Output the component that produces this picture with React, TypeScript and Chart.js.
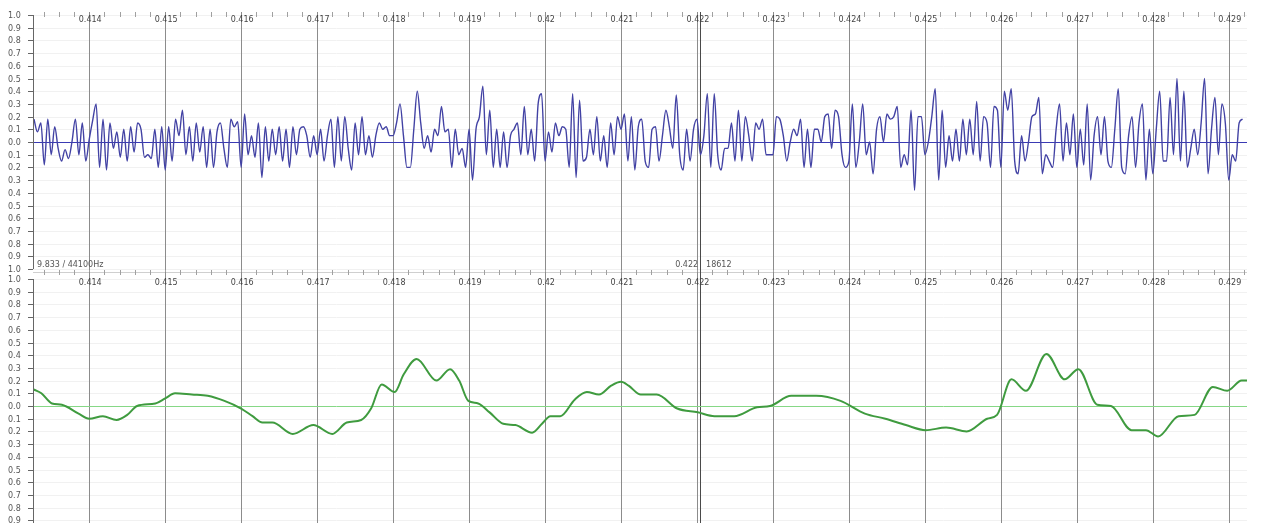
import React, { useEffect, useRef } from "react";
import { Chart, registerables } from "chart.js";

Chart.register(...registerables);

// ---------------- data ----------------
const SAMPLE_RATE = 44100;
const CURSOR_SAMPLE = 18612;
const ZOOM_TEXT = "9.833 / 44100Hz";

const X_MIN = 0.41326;
const X_MAX = 0.42924;
const X_TICKS = [0.414, 0.415, 0.416, 0.417, 0.418, 0.419, 0.42, 0.421, 0.422, 0.423, 0.424, 0.425, 0.426, 0.427, 0.428, 0.429];
const X_TICK_LABELS = ["0.414", "0.415", "0.416", "0.417", "0.418", "0.419", "0.42", "0.421", "0.422", "0.423", "0.424", "0.425", "0.426", "0.427", "0.428", "0.429"];
const X_MINOR_START = 0.4134;
const X_MINOR_STEP = 0.0002;

const Y_TICKS = [1.0, 0.9, 0.8, 0.7, 0.6, 0.5, 0.4, 0.3, 0.2, 0.1, 0.0, -0.1, -0.2, -0.3, -0.4, -0.5, -0.6, -0.7, -0.8, -0.9, -1.0];
const Y_TICK_LABELS = ["1.0", "0.9", "0.8", "0.7", "0.6", "0.5", "0.4", "0.3", "0.2", "0.1", "0.0", "0.1", "0.2", "0.3", "0.4", "0.5", "0.6", "0.7", "0.8", "0.9", "1.0"];

// upper (raw) waveform: one value every 1/22000 s, first value at 0.414 - 16/22000 s
const RAW_FIRST_TIME = 0.414 - 16 / 22000;
const RAW_STEP = 1 / 22000;
const RAW_VALUES = [
  // before 0.414
  0.18, 0.08, 0.15, -0.18, 0.18, -0.1, 0.12, -0.05, -0.15, -0.06, -0.13, 0.0, 0.18, -0.1, 0.15, -0.15,
  // 0.414
  0.02, 0.17, 0.3, -0.2, 0.18, -0.22, 0.15, -0.05, 0.08, -0.12, 0.1, -0.15, 0.12, -0.08, 0.15, 0.1, -0.12, -0.1, -0.13, 0.1, -0.2, 0.12,
  // 0.415
  -0.22, 0.12, -0.15, 0.18, 0.05, 0.25, -0.1, 0.12, -0.15, 0.15, -0.08, 0.12, -0.2, 0.1, -0.2, 0.08, 0.15, -0.05, -0.2, 0.18, 0.12, 0.16,
  // 0.416
  -0.2, 0.22, -0.1, 0.05, -0.12, 0.15, -0.28, 0.12, -0.15, 0.1, -0.1, 0.12, -0.15, 0.1, -0.2, 0.12, -0.1, 0.1, 0.12, 0.05, -0.12, 0.05,
  // 0.417
  -0.1, 0.1, -0.15, 0.05, 0.18, -0.2, 0.2, -0.15, 0.2, -0.05, -0.22, 0.15, -0.1, 0.2, -0.1, 0.05, -0.12, 0.05, 0.15, 0.1, 0.12, 0.05,
  // 0.418
  0.05, 0.15, 0.3, 0.05, -0.2, -0.2, 0.1, 0.4, 0.15, -0.05, 0.05, -0.08, 0.1, 0.05, 0.28, 0.08, 0.1, -0.2, 0.1, -0.1, -0.05, -0.2,
  // 0.419
  0.1, -0.3, 0.1, 0.2, 0.44, -0.1, 0.25, -0.2, 0.1, -0.2, 0.08, -0.2, 0.05, 0.1, 0.15, -0.1, 0.28, -0.1, 0.1, -0.15, 0.3, 0.38,
  // 0.420
  -0.15, 0.08, -0.08, 0.15, 0.05, 0.12, 0.1, -0.2, 0.38, -0.28, 0.33, -0.15, -0.12, 0.1, -0.1, 0.2, -0.15, 0.05, -0.2, 0.15, -0.1, 0.2,
  // 0.421
  0.1, 0.22, -0.15, 0.2, -0.22, 0.12, 0.18, -0.15, -0.2, 0.1, 0.12, -0.15, 0.05, 0.25, 0.12, -0.05, 0.37, -0.1, -0.22, 0.1, -0.15, 0.1,
  // 0.422
  0.18, -0.1, 0.05, 0.38, -0.2, 0.38, -0.1, -0.22, -0.05, -0.05, 0.15, -0.15, 0.25, -0.15, 0.2, 0.05, -0.15, 0.15, 0.1, 0.18, -0.1, -0.1,
  // 0.423
  -0.1, 0.2, 0.18, 0.05, -0.15, 0.0, 0.1, 0.05, 0.18, -0.2, 0.1, -0.2, 0.1, 0.1, 0.0, 0.2, 0.22, -0.05, 0.25, 0.2, -0.1, -0.2,
  // 0.424
  -0.15, 0.3, -0.2, 0.0, 0.3, -0.1, 0.0, -0.25, 0.1, 0.2, 0.0, 0.22, 0.18, 0.2, 0.28, -0.2, -0.1, -0.18, 0.25, -0.38, 0.2, 0.2,
  // 0.425
  -0.1, 0.0, 0.2, 0.42, -0.3, 0.25, -0.2, 0.05, -0.15, 0.1, -0.15, 0.18, -0.1, 0.18, -0.1, 0.32, -0.15, 0.2, 0.15, -0.2, 0.28, 0.25,
  // 0.426
  -0.2, 0.4, 0.25, 0.42, -0.15, -0.25, 0.05, -0.15, 0.0, 0.2, 0.22, 0.35, -0.25, -0.1, -0.15, -0.2, 0.1, 0.3, -0.15, 0.15, -0.1, 0.22,
  // 0.427
  -0.2, 0.1, -0.18, 0.3, -0.3, 0.05, 0.2, -0.1, 0.2, -0.15, -0.2, 0.1, 0.42, -0.2, -0.25, 0.05, 0.2, -0.2, 0.15, 0.3, -0.3, 0.1,
  // 0.428
  -0.25, 0.1, 0.4, -0.15, -0.15, 0.35, -0.1, 0.5, -0.15, 0.4, -0.2, -0.05, 0.1, -0.1, 0.15, 0.5, -0.25, 0.1, 0.35, -0.1, 0.3, 0.15,
  // 0.429
  -0.3, -0.1, -0.15, 0.15, 0.18,
];

// lower (filtered) waveform
const SMOOTH_TIMES = [
  0.41327, 0.41337, 0.41351, 0.41364, 0.41386, 0.414, 0.41418, 0.41436, 0.4145, 0.41463, 0.41487, 0.415, 0.41513, 0.41535,
  0.41556, 0.41578, 0.416, 0.41615, 0.41628, 0.41641, 0.41668, 0.41695, 0.4172, 0.41739, 0.41758, 0.41771, 0.41785, 0.41802,
  0.41814, 0.41831, 0.41857, 0.41875, 0.41887, 0.41899, 0.41912, 0.41927, 0.41945, 0.41961, 0.41983, 0.41996, 0.42007, 0.4202,
  0.42039, 0.42055, 0.42071, 0.42087, 0.421, 0.4211, 0.42126, 0.42147, 0.42174, 0.42201, 0.42223, 0.42249, 0.42279, 0.42296,
  0.42324, 0.42357, 0.42389, 0.42421, 0.42448, 0.42475, 0.42501, 0.42528, 0.42555, 0.42582, 0.42595, 0.42614, 0.42633, 0.4266,
  0.42684, 0.42702, 0.42727, 0.42745, 0.42772, 0.42791, 0.42807, 0.42834, 0.42855, 0.42879, 0.42898, 0.42917, 0.42924,
];
const SMOOTH_VALUES = [
  0.13, 0.1, 0.02, 0.01, -0.06, -0.1, -0.08, -0.11, -0.07, 0.0, 0.02, 0.06, 0.1, 0.09,
  0.08, 0.04, -0.02, -0.08, -0.13, -0.13, -0.22, -0.15, -0.22, -0.13, -0.11, -0.02, 0.17, 0.11,
  0.25, 0.37, 0.2, 0.29, 0.2, 0.04, 0.02, -0.05, -0.14, -0.15, -0.21, -0.14, -0.08, -0.08,
  0.05, 0.11, 0.09, 0.16, 0.19, 0.16, 0.09, 0.09, -0.02, -0.05, -0.08, -0.08, -0.01, 0.0,
  0.08, 0.08, 0.04, -0.06, -0.1, -0.15, -0.19, -0.17, -0.2, -0.1, -0.07, 0.21, 0.12, 0.41,
  0.21, 0.29, 0.01, 0.0, -0.19, -0.19, -0.24, -0.08, -0.07, 0.15, 0.12, 0.2, 0.2,
];

// ---------------- drawing helpers ----------------
const FONT = '8px "DejaVu Sans", sans-serif';

type PanelCfg = {
  zeroColor: string;
  gridFrom: number;
  minorTop: number;
  minorBottom: number;
  stripY: number | null;
  labelDy: number;
  texts: boolean;
};

function line(ctx: CanvasRenderingContext2D, x1: number, y1: number, x2: number, y2: number) {
  ctx.beginPath();
  ctx.moveTo(x1, y1);
  ctx.lineTo(x2, y2);
  ctx.stroke();
}

function makeDecor(cfg: PanelCfg) {
  return {
    id: "panelDecor",
    beforeDatasetsDraw(chart: any) {
      const { ctx, chartArea: a } = chart;
      const xs = chart.scales.x;
      const ys = chart.scales.y;
      ctx.save();
      ctx.lineWidth = 1;
      ctx.strokeStyle = "#f1f1f1";
      Y_TICKS.forEach((v) => {
        if (v === 0) return;
        const py = Math.round(ys.getPixelForValue(v)) + 0.5;
        line(ctx, a.left, py, a.right, py);
      });
      if (cfg.stripY !== null) {
        ctx.strokeStyle = "#cfcfcf";
        line(ctx, a.left, cfg.stripY + 0.5, a.right, cfg.stripY + 0.5);
      }
      ctx.strokeStyle = "#a0a0a0";
      for (let k = 0; k < 200; k++) {
        const v = Math.round((X_MINOR_START + k * X_MINOR_STEP) * 1e6) / 1e6;
        if (v > X_MAX) break;
        const px = Math.round(xs.getPixelForValue(v)) + 0.5;
        line(ctx, px, cfg.minorTop, px, cfg.minorBottom);
      }
      ctx.strokeStyle = "#8c8c8c";
      X_TICKS.forEach((v) => {
        const px = Math.round(xs.getPixelForValue(v)) + 0.5;
        line(ctx, px, cfg.gridFrom, px, chart.height);
      });
      ctx.strokeStyle = "#4a4a4a";
      const cx = Math.round(xs.getPixelForValue(CURSOR_SAMPLE / SAMPLE_RATE)) + 0.5;
      line(ctx, cx, cfg.gridFrom, cx, chart.height);
      ctx.strokeStyle = cfg.zeroColor;
      const zy = Math.round(ys.getPixelForValue(0)) + 0.5;
      line(ctx, a.left, zy, a.right, zy);
      ctx.restore();
    },
    afterDatasetsDraw(chart: any) {
      const { ctx, chartArea: a } = chart;
      const xs = chart.scales.x;
      const ys = chart.scales.y;
      ctx.save();
      ctx.lineWidth = 1;
      ctx.strokeStyle = "#666";
      line(ctx, a.left + 0.5, a.top, a.left + 0.5, a.bottom);
      ctx.font = FONT;
      ctx.fillStyle = "#555";
      ctx.textAlign = "left";
      ctx.textBaseline = "middle";
      Y_TICKS.forEach((v, i) => {
        const py = Math.round(ys.getPixelForValue(v)) + 0.5;
        line(ctx, a.left - 5, py, a.left, py);
        ctx.fillText(Y_TICK_LABELS[i], 8, py);
      });
      ctx.textAlign = "center";
      ctx.fillStyle = "#444";
      X_TICKS.forEach((v, i) => {
        const px = xs.getPixelForValue(v);
        ctx.fillText(X_TICK_LABELS[i], px + 1, a.top + cfg.labelDy);
      });
      if (cfg.texts) {
        const cx = xs.getPixelForValue(CURSOR_SAMPLE / SAMPLE_RATE);
        const ty = a.bottom - 4;
        ctx.fillStyle = "#555";
        ctx.textAlign = "left";
        ctx.fillText(ZOOM_TEXT, a.left + 4, ty);
        ctx.textAlign = "right";
        ctx.fillText((CURSOR_SAMPLE / SAMPLE_RATE).toFixed(3), cx - 2, ty);
        ctx.textAlign = "left";
        ctx.fillText(String(CURSOR_SAMPLE), cx + 6, ty);
      }
      ctx.restore();
    },
  };
}

function buildChart(
  canvas: HTMLCanvasElement,
  points: { x: number; y: number }[],
  color: string,
  width: number,
  padding: { left: number; right: number; top: number; bottom: number },
  cfg: PanelCfg
) {
  return new Chart(canvas, {
    type: "line",
    data: {
      datasets: [
        {
          data: points,
          borderColor: color,
          borderWidth: width,
          pointRadius: 0,
          fill: false,
          cubicInterpolationMode: "monotone",
        } as any,
      ],
    },
    options: {
      animation: false,
      responsive: false,
      maintainAspectRatio: false,
      devicePixelRatio: 1,
      events: [],
      layout: { padding },
      scales: {
        x: { type: "linear", min: X_MIN, max: X_MAX, display: false },
        y: { type: "linear", min: -1, max: 1, display: false },
      },
      plugins: { legend: { display: false }, tooltip: { enabled: false } },
    },
    plugins: [makeDecor(cfg)],
  });
}

export default function App() {
  const topRef = useRef<HTMLCanvasElement>(null);
  const bottomRef = useRef<HTMLCanvasElement>(null);

  useEffect(() => {
    const rawPoints = RAW_VALUES.map((v, i) => ({ x: RAW_FIRST_TIME + i * RAW_STEP, y: v }));
    const smoothPoints = SMOOTH_TIMES.map((t, i) => ({ x: t, y: SMOOTH_VALUES[i] }));
    const top = buildChart(
      topRef.current!,
      rawPoints,
      "#4242a4",
      1.4,
      { left: 33, right: 17, top: 15, bottom: 3 },
      { zeroColor: "#3a3ab4", gridFrom: 12, minorTop: 12, minorBottom: 17, stripY: null, labelDy: 5, texts: true }
    );
    const bottom = buildChart(
      bottomRef.current!,
      smoothPoints,
      "#3f9b3f",
      2,
      { left: 33, right: 17, top: 11, bottom: 3 },
      { zeroColor: "#86d886", gridFrom: 4, minorTop: 2, minorBottom: 7, stripY: 4, labelDy: 4, texts: false }
    );
    return () => {
      top.destroy();
      bottom.destroy();
    };
  }, []);

  return (
    <div style={{ position: "absolute", left: 0, top: 0, width: 1264, height: 523, overflow: "hidden", background: "#fff" }}>
      <canvas ref={topRef} width={1264} height={272} style={{ position: "absolute", left: 0, top: 0, width: 1264, height: 272 }} />
      <canvas ref={bottomRef} width={1264} height={268} style={{ position: "absolute", left: 0, top: 268, width: 1264, height: 268 }} />
    </div>
  );
}
